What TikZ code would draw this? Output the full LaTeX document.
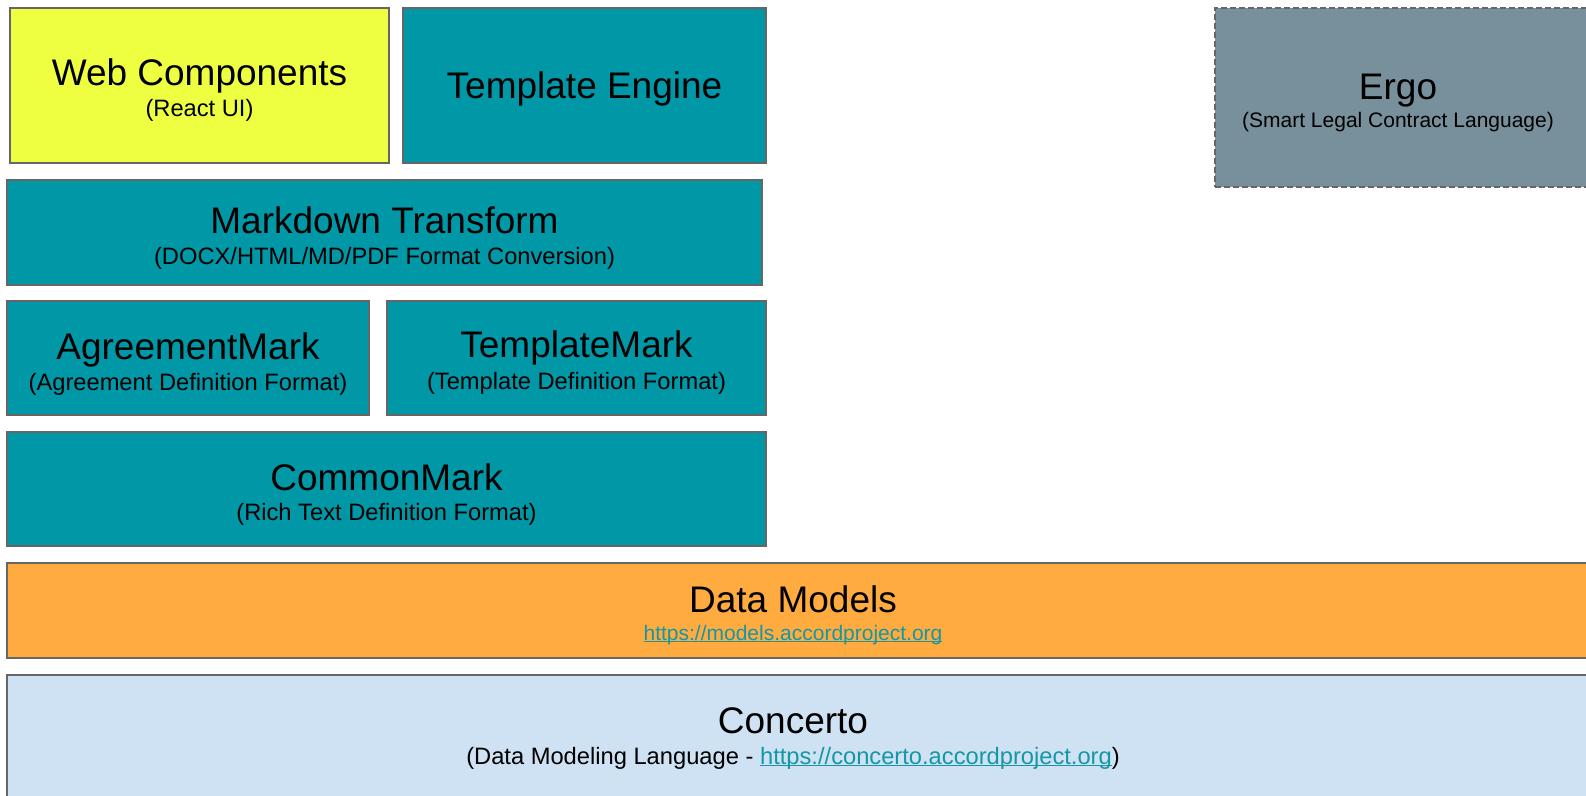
\documentclass[tikz,border=0pt]{standalone}
\usepackage{fontspec}
\setmainfont{Liberation Sans}
\definecolor{yel}{HTML}{EEFF41}
\definecolor{teal1}{HTML}{0097A7}
\definecolor{slate}{HTML}{78909C}
\definecolor{orng}{HTML}{FFAB40}
\definecolor{lblue}{HTML}{CFE2F3}
\definecolor{edge}{HTML}{666666}
\definecolor{linkc}{HTML}{1597A5}
\newcommand\weblink[1]{\setbox0\hbox{#1}\rlap{\rule[-2.2pt]{\wd0}{1.3pt}}\box0}
\begin{document}
\begin{tikzpicture}[x=1pt,y=-1pt,
  box/.style={draw=edge,line width=1.5pt,rectangle,inner sep=0pt},
  dbox/.style={box,dash pattern=on 6pt off 3pt},
  ttl/.style={anchor=base,inner sep=0pt,font=\fontsize{37}{41}\selectfont},
  sub/.style={anchor=base,inner sep=0pt,font=\fontsize{23.7}{27}\selectfont},
  ssub/.style={anchor=base,inner sep=0pt,font=\fontsize{21}{25}\selectfont}]
\useasboundingbox (0,0) rectangle (1586,795);
% boxes
\node[box,fill=yel,minimum width=379pt,minimum height=155pt] (wc) at (199.5,85.5) {};
\node[box,fill=teal1,minimum width=363pt,minimum height=155pt] (te) at (584.5,85.5) {};
\node[dbox,fill=slate,minimum width=380pt,minimum height=179pt] (ergo) at (1405,97.5) {};
\node[box,fill=teal1,minimum width=755pt,minimum height=105pt] (md) at (384.5,232.5) {};
\node[box,fill=teal1,minimum width=362pt,minimum height=114pt] (am) at (188,358) {};
\node[box,fill=teal1,minimum width=379pt,minimum height=114pt] (tm) at (576.5,358) {};
\node[box,fill=teal1,minimum width=759pt,minimum height=114pt] (cm) at (386.5,489) {};
\node[box,fill=orng,minimum width=1590pt,minimum height=95pt] (dm) at (802,610.5) {};
\node[box,fill=lblue,minimum width=1590pt,minimum height=130pt] (co) at (802,740) {};
% texts
\node[ttl] (wct) at (199.5,85) {Web Components};
\node[sub] (wcs) at (199.5,116) {(React UI)};
\node[ttl] (tet) at (584.5,98) {Template Engine};
\node[ttl] (ergot) at (1398,99) {Ergo};
\node[ssub] (ergos) at (1398,127) {(Smart Legal Contract Language)};
\node[ttl] (mdt) at (384.5,233) {Markdown Transform};
\node[sub] (mds) at (384.5,264) {(DOCX/HTML/MD/PDF Format Conversion)};
\node[ttl] (amt) at (188,359) {AgreementMark};
\node[sub] (ams) at (188,390) {(Agreement Definition Format)};
\node[ttl] (tmt) at (576.5,357) {TemplateMark};
\node[sub] (tms) at (576.5,389) {(Template Definition Format)};
\node[ttl] (cmt) at (386.5,490) {CommonMark};
\node[sub] (cms) at (386.5,520) {(Rich Text Definition Format)};
\node[ttl] (dmt) at (793,612) {Data Models};
\node[ssub,text=linkc] (dms) at (793,640) {\weblink{https://models.accordproject.org}};
\node[ttl] (cot) at (793,733) {Concerto};
\node[sub] (cos) at (793,764) {(Data Modeling Language - \textcolor{linkc}{\weblink{https://concerto.accordproject.org}})};
\end{tikzpicture}
\end{document}
